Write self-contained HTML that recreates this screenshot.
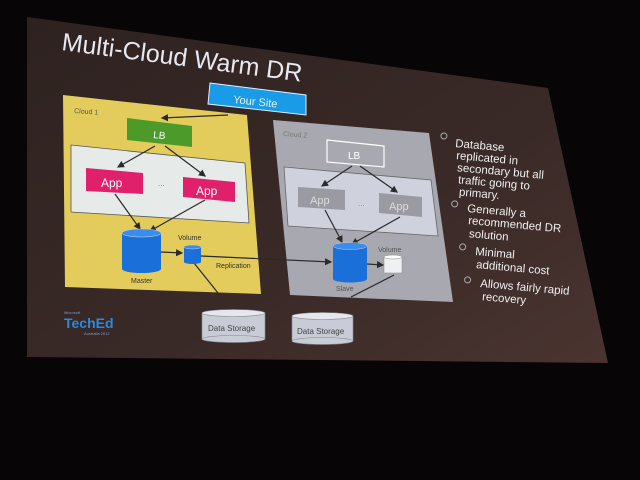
<!DOCTYPE html>
<html><head><meta charset="utf-8"><style>html,body{margin:0;padding:0;background:#070506;}svg{display:block}</style></head>
<body>
<svg width="640" height="480" viewBox="0 0 640 480" xmlns="http://www.w3.org/2000/svg" font-family="Liberation Sans, sans-serif">
<defs>
<linearGradient id="bg" x1="0" y1="0" x2="1" y2="1">
<stop offset="0" stop-color="#2e2220"/><stop offset="0.6" stop-color="#3a2a27"/><stop offset="1" stop-color="#4a3430"/></linearGradient>
<marker id="ar" markerWidth="6" markerHeight="6" refX="5" refY="3" orient="auto"><path d="M0,0 L6,3 L0,6z" fill="#2a2a2a"/></marker>
</defs>
<rect width="640" height="480" fill="#070506"/>
<polygon points="27,17 548,88 608,363 27,357" fill="url(#bg)"/>
<text x="61" y="50" font-size="25" fill="#e8e8f0" transform="rotate(7.5 61 50)">Multi-Cloud Warm DR</text>
<!-- Cloud 1 -->
<polygon points="63,95 247,115 261,294 65,287" fill="#e3cc5c"/>
<text x="74" y="113" font-size="7" fill="#555" transform="rotate(4 74 113)">Cloud 1</text>
<polygon points="71,145 245,163 249,223 71,212" fill="#e6eae8" stroke="#555" stroke-width="0.8"/>
<polygon points="127,118 192,126 192,147 127,140" fill="#4b9a2a"/>
<text x="153" y="138" font-size="10" fill="#fff" transform="rotate(5 153 138)">LB</text>
<polygon points="86,168 143,173 143,194 86,191" fill="#e0206a"/>
<text x="101" y="187" font-size="12" fill="#fff">App</text>
<polygon points="183,177 235,182 235,202 183,197" fill="#e0206a"/>
<text x="196" y="195" font-size="12" fill="#fff">App</text>
<text x="158" y="186" font-size="8" fill="#777">...</text>
<!-- Cloud 2 -->
<polygon points="273,120 429,133 453,302 290,295" fill="#a8a9b0"/>
<text x="283" y="136" font-size="7" fill="#777" transform="rotate(4 283 136)">Cloud 2</text>
<polygon points="284,167 431,180 438,236 288,226" fill="#cfd2dc" stroke="#666" stroke-width="0.8"/>
<polygon points="327,140 384,146 384,167 327,162" fill="none" stroke="#fff" stroke-width="1.2"/>
<text x="348" y="159" font-size="10" fill="#fff">LB</text>
<polygon points="298,187 345,190 345,210 298,207" fill="#9a9aa2"/>
<text x="310" y="204" font-size="11" fill="#ddd">App</text>
<polygon points="379,193 422,197 422,217 379,213" fill="#9a9aa2"/>
<text x="389" y="210" font-size="11" fill="#ddd">App</text>
<text x="358" y="206" font-size="8" fill="#888">...</text>
<!-- arrows -->
<g stroke="#2a2a2a" stroke-width="1.2" fill="none" marker-end="url(#ar)">
<line x1="228" y1="115" x2="162" y2="118"/>
<line x1="155" y1="146" x2="118" y2="167"/>
<line x1="165" y1="146" x2="205" y2="176"/>
<line x1="115" y1="194" x2="140" y2="229"/>
<line x1="205" y1="200" x2="150" y2="231"/>
<line x1="161" y1="252" x2="182" y2="253"/>
<line x1="201" y1="256" x2="331" y2="262"/>
<line x1="352" y1="166" x2="322" y2="186"/>
<line x1="360" y1="166" x2="397" y2="192"/>
<line x1="325" y1="210" x2="342" y2="242"/>
<line x1="400" y1="217" x2="352" y2="244"/>
<line x1="367" y1="264" x2="383" y2="265"/>
</g>
<g stroke="#2a2a2a" stroke-width="1.2">
<line x1="194" y1="263" x2="218" y2="293"/>
<line x1="394" y1="275" x2="351" y2="297"/>
</g>
<!-- cylinders -->
<g>
<rect x="122" y="233" width="39" height="36" fill="#1a6fd8"/>
<ellipse cx="141.5" cy="269" rx="19.5" ry="4" fill="#1a6fd8"/>
<ellipse cx="141.5" cy="233" rx="19.5" ry="4" fill="#3a8cf0" stroke="#bcd" stroke-width="0.6"/>
<rect x="184" y="247" width="17" height="15" fill="#1a6fd8"/>
<ellipse cx="192.5" cy="262" rx="8.5" ry="2" fill="#1a6fd8"/>
<ellipse cx="192.5" cy="247" rx="8.5" ry="2" fill="#3a8cf0" stroke="#ccc" stroke-width="0.5"/>
<rect x="333" y="246" width="34" height="33" fill="#1a6fd8"/>
<ellipse cx="350" cy="279" rx="17" ry="3.5" fill="#1a6fd8"/>
<ellipse cx="350" cy="246" rx="17" ry="3.5" fill="#3a8cf0" stroke="#ccc" stroke-width="0.5"/>
<rect x="384" y="257" width="18" height="16" fill="#eef0f4" stroke="#888" stroke-width="0.5"/>
<ellipse cx="393" cy="257" rx="9" ry="2" fill="#fff" stroke="#888" stroke-width="0.5"/>
</g>
<text x="131" y="283" font-size="7" fill="#333">Master</text>
<text x="178" y="240" font-size="7" fill="#333">Volume</text>
<text x="216" y="268" font-size="7" fill="#333">Replication</text>
<text x="336" y="291" font-size="7" fill="#555">Slave</text>
<text x="378" y="252" font-size="7" fill="#555">Volume</text>
<!-- data storage -->
<g fill="#c8ccd6" stroke="#888" stroke-width="0.6">
<rect x="202" y="313" width="63" height="26"/>
<ellipse cx="233.5" cy="339" rx="31.5" ry="3.5"/>
<ellipse cx="233.5" cy="313" rx="31.5" ry="3.5" fill="#e4e7ee"/>
<rect x="292" y="316" width="61" height="25"/>
<ellipse cx="322.5" cy="341" rx="30.5" ry="3.5"/>
<ellipse cx="322.5" cy="316" rx="30.5" ry="3.5" fill="#e4e7ee"/>
</g>
<text x="208" y="331" font-size="8" fill="#444">Data Storage</text>
<text x="297" y="334" font-size="8" fill="#444">Data Storage</text>
<text x="64" y="314" font-size="4" fill="#7a9ad0">Microsoft</text>
<text x="64" y="328" font-size="14" font-weight="bold" fill="#2a8ae0">TechEd</text>
<text x="84" y="335" font-size="4" fill="#7a9ad0">Australia 2012</text>
<!-- bullets -->
<g fill="#f0f0f0" font-size="11.5">
<g transform="rotate(5 455 147)">
<circle cx="443" cy="137" r="3" fill="none" stroke="#aaa" stroke-width="1"/>
<text x="455" y="147">Database</text>
<text x="457" y="159">replicated in</text>
<text x="459" y="171">secondary but all</text>
<text x="461" y="183">traffic going to</text>
<text x="463" y="195">primary.</text>
</g>
<g transform="rotate(5 467 212)">
<circle cx="454" cy="205" r="3" fill="none" stroke="#aaa" stroke-width="1"/>
<text x="467" y="212">Generally a</text>
<text x="469" y="224">recommended DR</text>
<text x="471" y="237">solution</text>
</g>
<g transform="rotate(5 475 255)">
<circle cx="462" cy="248" r="3" fill="none" stroke="#aaa" stroke-width="1"/>
<text x="475" y="255">Minimal</text>
<text x="477" y="268">additional cost</text>
</g>
<g transform="rotate(5 480 287)">
<circle cx="467" cy="281" r="3" fill="none" stroke="#aaa" stroke-width="1"/>
<text x="480" y="287">Allows fairly rapid</text>
<text x="483" y="300">recovery</text>
</g>
</g>
<!-- Your Site -->
<polygon points="210,83 306,95 306,115 208,104" fill="#1a9be8" stroke="#dfefff" stroke-width="1"/>
<text x="233" y="103" font-size="11" fill="#e8f4ff" transform="rotate(6 233 103)">Your Site</text>
</svg>
</body></html>
